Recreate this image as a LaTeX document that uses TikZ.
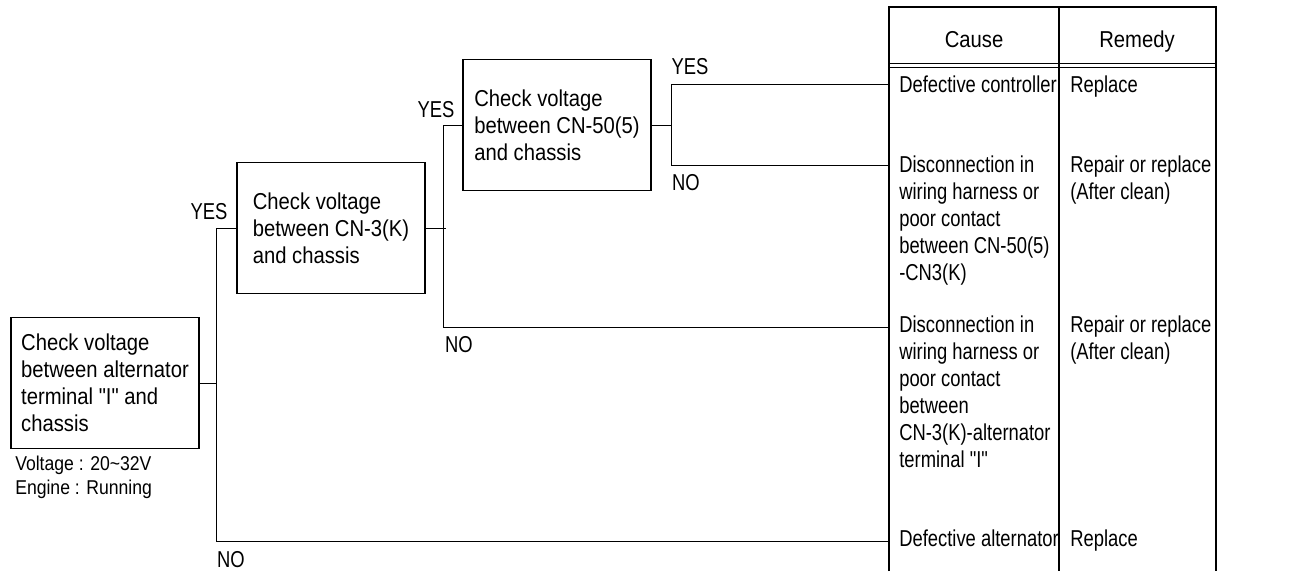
\documentclass[tikz,border=0pt]{standalone}
\usepackage{fontspec}
\newfontfamily\boxfont{Liberation Sans}[FakeStretch=0.88]
\newfontfamily\tabfont{Liberation Sans}[FakeStretch=0.8]
\newcommand{\bigtxt}{\boxfont\fontsize{17.25}{20.25}\selectfont}
\newcommand{\tabtxt}{\tabfont\fontsize{17.25}{20.25}\selectfont}
\newcommand{\smalltxt}{\boxfont\fontsize{15}{18}\selectfont}
\begin{document}
\begin{tikzpicture}[x=0.75pt, y=-0.75pt,
        check/.style={rectangle, draw=black, line width=0.9pt, align=left, minimum width=141pt, minimum height=98pt, font=\bigtxt},
        cell/.style={anchor=north west, inner sep=0pt, align=left, font=\tabtxt},
        head/.style={anchor=base, inner sep=0pt, font=\bigtxt},
        lbl/.style={inner sep=0pt, font=\tabtxt},
        note/.style={anchor=north west, inner sep=0pt, align=left, font=\smalltxt},
        wire/.style={line width=0.75pt},
        rule/.style={line width=1.1pt}
    ]
        \useasboundingbox (0,0) rectangle (1302,571);

        % checks
        \node[check] (volt1) at (105,383) {Check voltage\\between alternator\\terminal "I" and\\chassis};
        \node[check] (volt2) at (331,228) {Check voltage\\between CN-3(K)\\and chassis};
        \node[check] (volt3) at (557,125) {Check voltage\\between CN-50(5)\\and chassis};
        \node[note] (cond) at (15,456) {Voltage : 20\textasciitilde32V\\Engine : Running};

        % table
        \draw[rule] (889,571) |- (1216,7) -- (1216,571);
        \draw[rule] (1059,7) -- (1059,571);
        \draw[wire] (889,63) -- (1216,63) (889,67) -- (1216,67);
        \node[head] (cause) at (974,47) {Cause};
        \node[head] (remedy) at (1137,47) {Remedy};

        \node[cell] (cause1) at (899,76) {Defective controller};
        \node[cell] (cause2) at (899,156) {Disconnection in\\wiring harness or\\poor contact\\between CN-50(5)\\-CN3(K)};
        \node[cell] (cause3) at (899,316) {Disconnection in\\wiring harness or\\poor contact\\between\\CN-3(K)-alternator\\terminal "I"};
        \node[cell] (cause4) at (899,530) {Defective alternator};
        \node[cell] (remedy1) at (1070,76) {Replace};
        \node[cell] (remedy2) at (1070,156) {Repair or replace\\(After clean)};
        \node[cell] (remedy3) at (1070,316) {Repair or replace\\(After clean)};
        \node[cell] (remedy4) at (1070,530) {Replace};

        \coordinate (in1) at (889,84);
        \coordinate (in2) at (889,165);
        \coordinate (in3) at (889,327);
        \coordinate (in4) at (889,541);
        \coordinate (split1) at (217,0);
        \coordinate (split3) at (671,0);

        % connectors
        \draw[wire] (volt1.east) -- (volt1.east -| split1);
        \draw[wire] (volt2.west) -- ++(-20,0) |- (in4);
        \draw[wire] (volt2.east) -- ++(20,0);
        \draw[wire] (volt3.west) -- ++(-19,0) |- (in3);
        \draw[wire] (volt3.east) -- (volt3.east -| split3);
        \draw[wire] (in1) -- (in1 -| split3) -- (in2 -| split3) -- (in2);

        % labels
        \node[lbl] (yes1) at (209,212) {YES};
        \node[lbl] (no1) at (231,560) {NO};
        \node[lbl] (yes2) at (436,110) {YES};
        \node[lbl] (no2) at (459,345) {NO};
        \node[lbl] (yes3) at (690,67) {YES};
        \node[lbl] (no3) at (686,183) {NO};
    \end{tikzpicture}
\end{document}
